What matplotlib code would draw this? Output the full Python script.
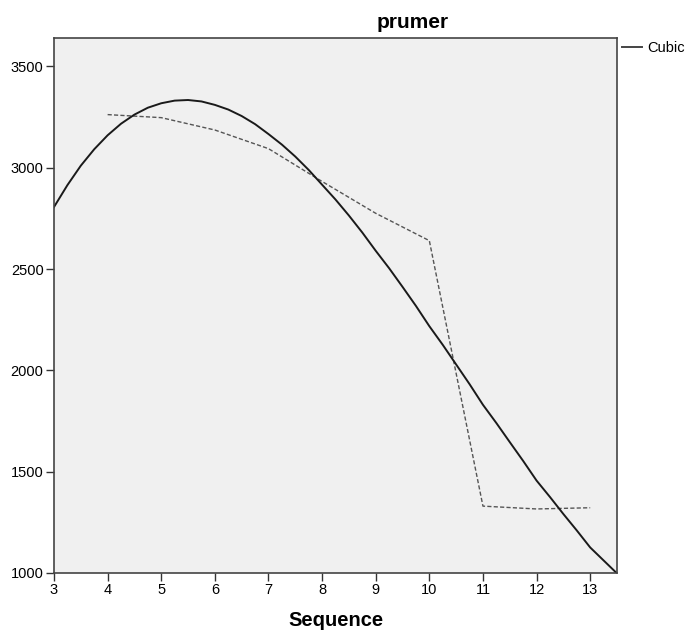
import matplotlib
matplotlib.use("Agg")
import matplotlib.pyplot as plt
from matplotlib.lines import Line2D

plt.rcParams['font.family'] = ['Liberation Sans', 'DejaVu Sans']

# observed values (dashed)
seq = [4, 5, 6, 7, 8, 9, 10, 11, 12, 13]
prumer = [3262, 3247, 3186, 3094, 2932, 2775, 2640, 1330, 1316, 1322]

# cubic fit curve, every 0.25
fit_x = [3, 3.25, 3.5, 3.75, 4, 4.25, 4.5, 4.75, 5, 5.25, 5.5, 5.75, 6, 6.25,
         6.5, 6.75, 7, 7.25, 7.5, 7.75, 8, 8.25, 8.5, 8.75, 9, 9.25, 9.5, 9.75,
         10, 10.25, 10.5, 10.75, 11, 11.25, 11.5, 11.75, 12, 12.25, 12.5,
         12.75, 13, 13.25, 13.5]
fit_y = [2806, 2914, 3010, 3091, 3160, 3217, 3262, 3296, 3318, 3331, 3334,
         3327, 3310, 3287, 3255, 3215, 3166, 3114, 3055, 2989, 2916, 2843,
         2764, 2680, 2590, 2504, 2412, 2318, 2218, 2126, 2029, 1932, 1830,
         1740, 1646, 1553, 1456, 1375, 1291, 1210, 1126, 1062, 998]

xticks = [3, 4, 5, 6, 7, 8, 9, 10, 11, 12, 13]
yticks = [1000, 1500, 2000, 2500, 3000, 3500]

fig = plt.figure(figsize=(6.87, 6.33), dpi=100)
ax = fig.add_axes([54/687, 1-573/633, 563/687, 535/633])
ax.set_facecolor("#f0f0f0")

ax.plot(seq, prumer, color="#555555", lw=1.0, ls=(0, (3, 1.6)))
ax.plot(fit_x, fit_y, color="#1a1a1a", lw=1.4, solid_joinstyle="round")

ax.set_xlim(3, 13.5)
ax.set_ylim(1000, 3640)
ax.set_xticks(xticks)
ax.set_yticks(yticks)
ax.tick_params(direction="out", length=6, width=1.0, labelsize=10.5, color="#333333", pad=1.5)
for s in ax.spines.values():
    s.set_color("#444444")
    s.set_linewidth(1.2)

ax.set_xlabel("Sequence", fontsize=14.5, fontweight="bold", labelpad=10)
fig.text(413/687, 1-22/633, "prumer", fontsize=15, fontweight="bold", ha="center", va="center")

# legend
fig.add_artist(Line2D([622/687, 642/687], [1-47/633, 1-47/633], color="#444444", lw=1.4))
fig.text(647/687, 1-48/633, "Cubic", fontsize=10.5, ha="left", va="center")

fig.savefig("out.png", dpi=100)
